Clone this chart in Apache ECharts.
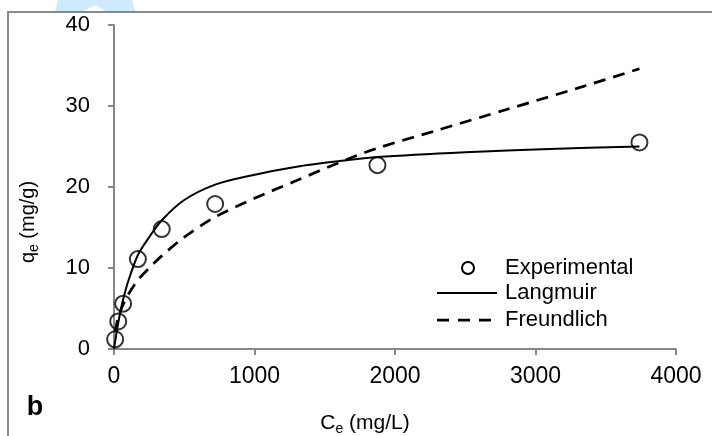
<!DOCTYPE html>
<html>
<head>
<meta charset="utf-8">
<script src="https://cdn.jsdelivr.net/npm/echarts@6/dist/echarts.min.js"></script>
<style>
  html, body { margin: 0; padding: 0; background: #fff; }
  #chart { width: 712px; height: 436px; }
</style>
</head>
<body>
<div id="chart"></div>
<script>
// Equilibrium concentration (mg/L) and uptake (mg/g)
const ceExp = [8, 30, 65, 170, 340, 720, 1875, 3740];
const qeExp = [1.2, 3.4, 5.6, 11.1, 14.8, 17.9, 22.7, 25.5];

// Fitted isotherm curves
const ceLangmuir = [0, 8, 20, 30, 50, 65, 100, 170, 250, 340, 500, 720, 968, 1300, 1608, 1875, 2500, 3100, 3740];
const qeLangmuir = [0, 0.9, 2.2, 3.2, 5.0, 6.1, 8.3, 11.6, 13.8, 15.9, 18.4, 20.3, 21.4, 22.5, 23.2, 23.7, 24.3, 24.7, 25.0];
const ceFreundlich = [8, 30, 65, 100, 170, 250, 340, 500, 720, 1000, 1300, 1600, 1875, 2300, 2800, 3300, 3740];
const qeFreundlich = [2.1, 3.9, 5.5, 6.7, 8.5, 10.0, 11.5, 13.8, 16.3, 18.6, 20.8, 23.0, 24.8, 27.0, 29.6, 32.2, 34.6];

// Axis ticks
const xTicks = [0, 1000, 2000, 3000, 4000];
const yTicks = [0, 10, 20, 30, 40];

const seriesNames = ['Experimental', 'Langmuir', 'Freundlich'];

const pairs = (xs, ys) => xs.map((x, i) => [x, ys[i]]);

const FONT = '"Liberation Sans", Arial, sans-serif';
const AXIS_GREY = '#878787';

const chart = echarts.init(document.getElementById('chart'), null, { renderer: 'canvas' });

// Legend drawn as a small key: symbol/line sample followed by the name
const keyX = 437, keyTextX = 505, keyRows = [268, 293, 320];
const keyGraphics = [
  {
    type: 'circle',
    shape: { cx: keyX + 31, cy: keyRows[0], r: 6 },
    style: { fill: 'none', stroke: '#000', lineWidth: 2 }
  },
  {
    type: 'line',
    shape: { x1: keyX, y1: keyRows[1], x2: keyX + 60, y2: keyRows[1] },
    style: { stroke: '#000', lineWidth: 2 }
  },
  {
    type: 'line',
    shape: { x1: keyX, y1: keyRows[2], x2: keyX + 54, y2: keyRows[2] },
    style: { stroke: '#000', lineWidth: 2.75, lineDash: [12, 9] }
  }
].concat(seriesNames.map((name, i) => ({
  type: 'text',
  x: keyTextX,
  y: keyRows[i],
  style: { text: name, fontSize: 22, fontFamily: FONT, fill: '#000', align: 'left', verticalAlign: 'middle' }
})));

chart.setOption({
  animation: false,
  backgroundColor: '#fff',
  textStyle: { fontFamily: FONT, color: '#000' },
  grid: { left: 114, right: 36, top: 25, bottom: 87, containLabel: false },
  xAxis: {
    type: 'value',
    min: xTicks[0],
    max: xTicks[xTicks.length - 1],
    interval: xTicks[1] - xTicks[0],
    axisLine: { show: true, onZero: false, lineStyle: { color: AXIS_GREY, width: 2 } },
    axisTick: { show: true, length: 6, lineStyle: { color: AXIS_GREY, width: 2 } },
    axisLabel: { margin: 16, fontSize: 23, color: '#000', fontFamily: FONT, formatter: v => String(v) },
    splitLine: { show: false }
  },
  yAxis: {
    type: 'value',
    min: yTicks[0],
    max: yTicks[yTicks.length - 1],
    interval: yTicks[1] - yTicks[0],
    axisLine: { show: true, onZero: false, lineStyle: { color: AXIS_GREY, width: 2 } },
    axisTick: { show: true, length: 6, lineStyle: { color: AXIS_GREY, width: 2 } },
    axisLabel: { margin: 24, fontSize: 22, color: '#000', fontFamily: FONT, formatter: v => String(v) },
    splitLine: { show: false }
  },
  series: [
    {
      name: seriesNames[1],
      type: 'line',
      data: pairs(ceLangmuir, qeLangmuir),
      symbol: 'none',
      smooth: 0.3,
      lineStyle: { color: '#000', width: 2 },
      itemStyle: { color: '#000' },
      z: 3
    },
    {
      name: seriesNames[2],
      type: 'line',
      data: pairs(ceFreundlich, qeFreundlich),
      symbol: 'none',
      smooth: 0.3,
      lineStyle: { color: '#000', width: 2.75, type: [12, 8] },
      itemStyle: { color: '#000' },
      z: 2
    },
    {
      name: seriesNames[0],
      type: 'scatter',
      data: pairs(ceExp, qeExp),
      symbol: 'circle',
      symbolSize: 16,
      itemStyle: { color: 'rgba(255,255,255,0)', borderColor: '#000', borderWidth: 2 },
      z: 4
    }
  ],
  graphic: [
    // light blue mark at the top edge
    {
      type: 'polygon',
      shape: { points: [[58, 0], [132, 0], [135, 11], [106, 11], [95, 5], [84, 11], [55, 11]] },
      style: { fill: '#cfeafb' },
      silent: true,
      z: 0
    },
    // panel frame
    {
      type: 'polyline',
      shape: { points: [[8, 436], [8, 12], [712, 12]] },
      style: { stroke: '#8a8a8a', lineWidth: 2, fill: null },
      silent: true,
      z: 1
    },
    // axis titles
    {
      type: 'text',
      x: 28,
      y: 222,
      rotation: Math.PI / 2,
      style: {
        text: '{m|q}{s|e}{m| (mg/g)}',
        align: 'center',
        verticalAlign: 'middle',
        rich: {
          m: { fontSize: 20, fontFamily: FONT, fill: '#000', lineHeight: 26, verticalAlign: 'middle' },
          s: { fontSize: 14, fontFamily: FONT, fill: '#000', lineHeight: 26, verticalAlign: 'bottom' }
        }
      },
      z: 5
    },
    {
      type: 'text',
      x: 365,
      y: 423,
      style: {
        text: '{m|C}{s|e}{m| (mg/L)}',
        align: 'center',
        verticalAlign: 'middle',
        rich: {
          m: { fontSize: 21, fontFamily: FONT, fill: '#000', lineHeight: 26, verticalAlign: 'middle' },
          s: { fontSize: 14, fontFamily: FONT, fill: '#000', lineHeight: 26, verticalAlign: 'bottom' }
        }
      },
      z: 5
    },
    // panel letter
    {
      type: 'text',
      x: 35,
      y: 408,
      style: {
        text: 'b',
        fontSize: 27,
        fontWeight: 'bold',
        fontFamily: FONT,
        fill: '#000',
        align: 'center',
        verticalAlign: 'middle'
      },
      z: 5
    }
  ].concat(keyGraphics)
});
</script>
</body>
</html>
